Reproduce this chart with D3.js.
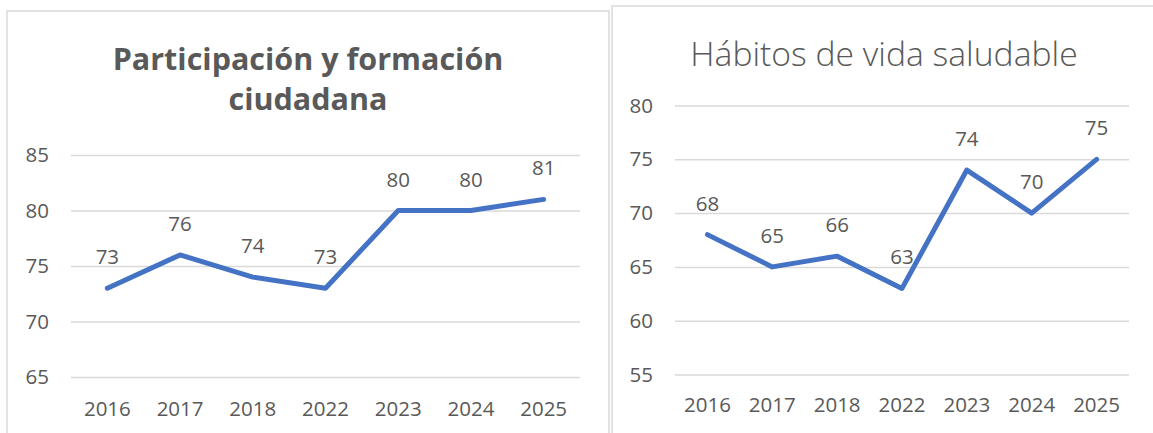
<!DOCTYPE html>
<html>
<head>
<meta charset="utf-8">
<title>Participación y hábitos</title>
<script src="https://cdn.jsdelivr.net/npm/d3@7"></script>
<style>
    body { margin: 0; background: #ffffff; }
    svg text { font-family: "Open Sans", sans-serif; fill: #595959; }
    .grid line { stroke: #d9d9d9; stroke-width: 1.5; }
    .frame { fill: none; stroke: #d9d9d9; stroke-width: 1.5; }
</style>
</head>
<body>
<svg id="chart" width="1153" height="433"></svg>
<script>
var years = ["2016", "2017", "2018", "2022", "2023", "2024", "2025"];
var participacion = [73, 76, 74, 73, 80, 80, 81];
var habitos = [68, 65, 66, 63, 74, 70, 75];
var participacionTicks = [65, 70, 75, 80, 85];
var habitosTicks = [55, 60, 65, 70, 75, 80];

var svg = d3.select("#chart");
var fs = "20.5px";

function drawChart(o) {
    var g = svg.append("g");

    g.append("rect").attr("class", "frame")
        .attr("x", o.frame[0]).attr("y", o.frame[1])
        .attr("width", o.frame[2]).attr("height", o.frame[3]);

    var x = d3.scaleBand().domain(years).range([o.left, o.right]);
    var y = d3.scaleLinear().domain(d3.extent(o.ticks)).range([o.bottom, o.top]);

    // gridlines + y labels
    g.append("g")
        .attr("class", "grid")
        .attr("transform", "translate(" + o.left + ",0)")
        .call(d3.axisLeft(y).tickValues(o.ticks).tickSize(-(o.right - o.left)).tickPadding(22))
        .call(function(s) { s.select(".domain").remove(); })
        .selectAll("text").style("font-size", fs);

    // x labels
    g.append("g")
        .attr("transform", "translate(0," + o.bottom + ")")
        .call(d3.axisBottom(x).tickSize(0).tickPadding(o.xPad))
        .call(function(s) { s.select(".domain").remove(); })
        .selectAll("text").style("font-size", fs);

    var line = d3.line()
        .x(function(d, i) { return x(years[i]) + x.bandwidth() / 2; })
        .y(function(d) { return y(d); });

    g.append("path")
        .datum(o.values)
        .attr("d", line)
        .attr("fill", "none")
        .attr("stroke", "#4472C4")
        .attr("stroke-width", 5)
        .attr("stroke-linejoin", "round")
        .attr("stroke-linecap", "round");

    g.selectAll(".lbl")
        .data(o.values)
        .enter().append("text")
        .attr("class", "lbl")
        .attr("x", function(d, i) { return x(years[i]) + x.bandwidth() / 2; })
        .attr("y", function(d) { return y(d) - 24; })
        .attr("text-anchor", "middle")
        .style("font-size", fs)
        .text(function(d) { return d; });

    var t = g.append("text")
        .attr("text-anchor", "middle")
        .style("font-size", o.titleSize + "px")
        .style("font-weight", o.titleWeight);
    o.title.forEach(function(line, i) {
        t.append("tspan")
            .attr("x", o.titleX)
            .attr("y", o.titleY + i * 40)
            .text(line);
    });
}

drawChart({
    values: participacion,
    ticks: participacionTicks,
    frame: [7, 11, 602, 440],
    left: 71, right: 580, top: 155, bottom: 377, xPad: 24,
    title: ["Participación y formación", "ciudadana"],
    titleX: 308, titleY: 70, titleSize: 30.5, titleWeight: "bold"
});

drawChart({
    values: habitos,
    ticks: habitosTicks,
    frame: [612, 6, 560, 440],
    left: 675, right: 1129, top: 105.5, bottom: 374.5, xPad: 23,
    title: ["Hábitos de vida saludable"],
    titleX: 884, titleY: 66, titleSize: 33.7, titleWeight: 300
});
</script>
</body>
</html>
